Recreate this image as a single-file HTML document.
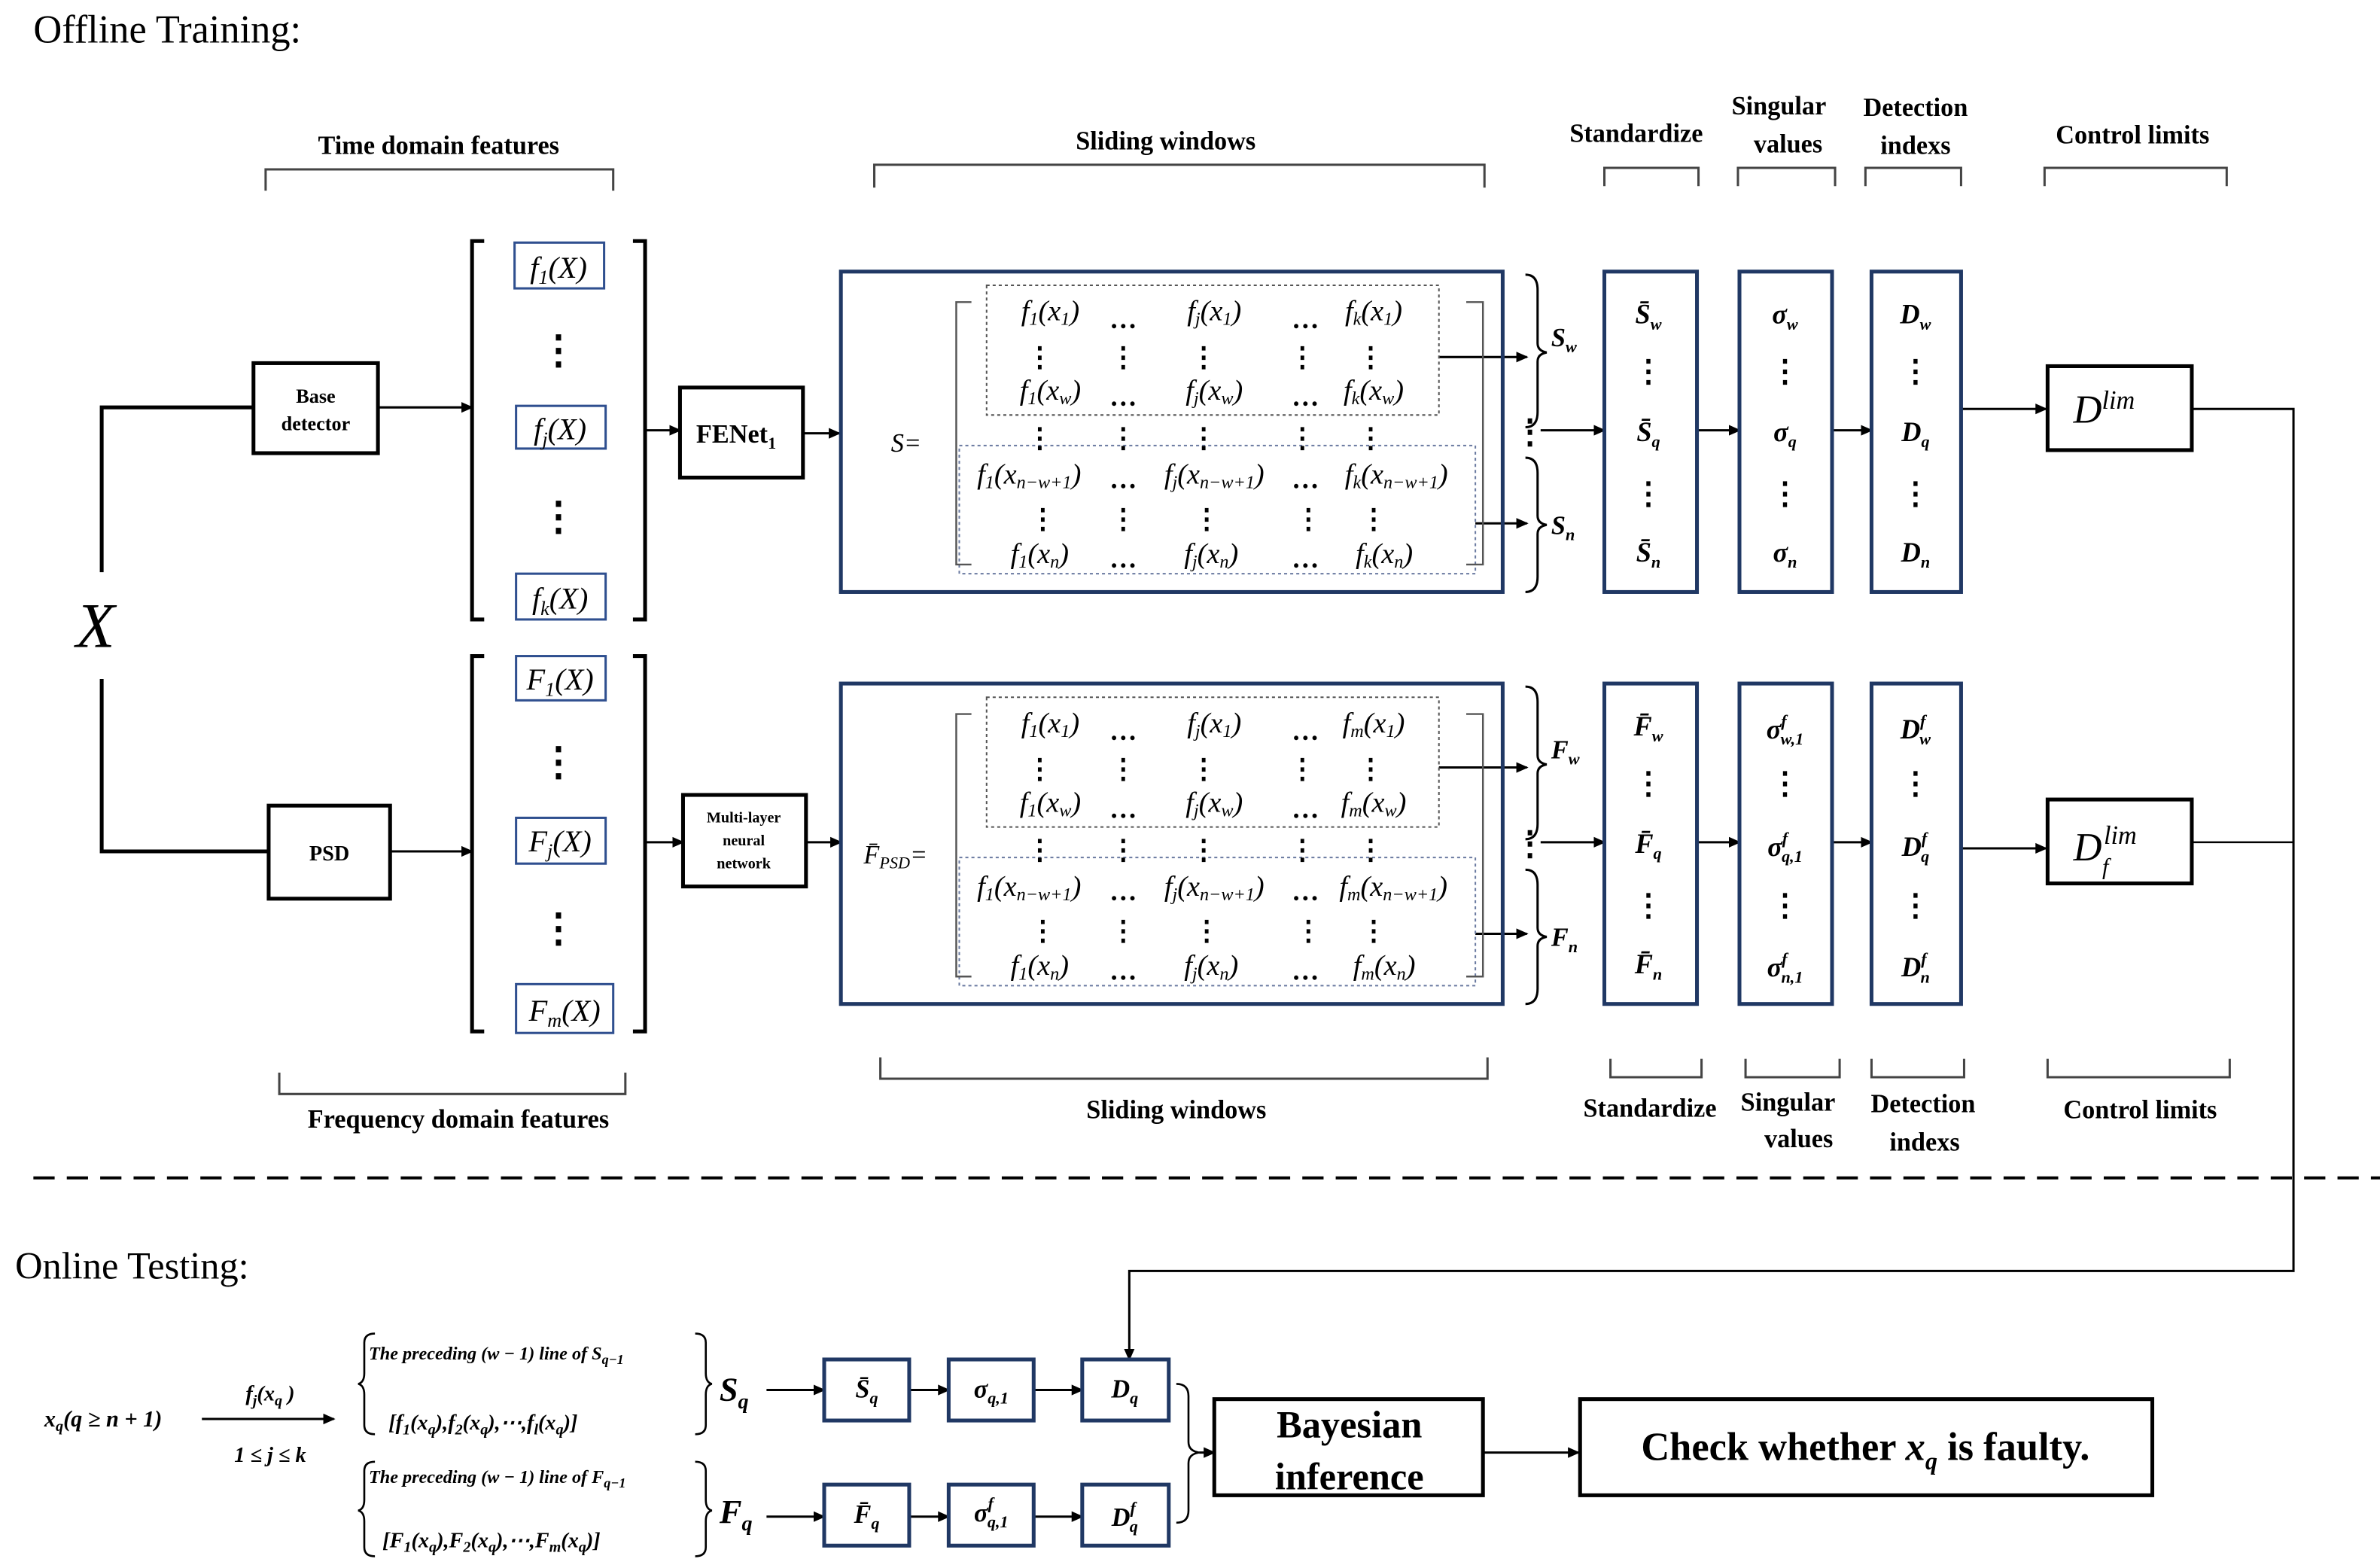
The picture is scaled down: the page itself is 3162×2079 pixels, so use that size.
<!DOCTYPE html>
<html><head><meta charset="utf-8"><style>
html,body{margin:0;padding:0;background:#fff;}
svg{display:block;}
.t{font-family:"Liberation Serif",serif;}
.b{font-weight:bold;}
.i{font-style:italic;}
</style></head><body>
<svg width="3162" height="2079" viewBox="0 0 1568 1025.7" preserveAspectRatio="none" xmlns="http://www.w3.org/2000/svg" class="t">
<defs><marker id="a" markerWidth="8" markerHeight="8" refX="7" refY="4" orient="auto" markerUnits="userSpaceOnUse"><path d="M0,0.5 L8,4 L0,7.5z" fill="#000"/></marker></defs>
<rect width="1568" height="1026" fill="#fff"/>
<text x="22" y="28" font-size="26">Offline Training:</text>
<g font-size="17" class="b" text-anchor="middle">
<text x="289" y="101">Time domain features</text>
<text x="768" y="98">Sliding windows</text>
<text x="1078" y="93">Standardize</text>
<text x="1172" y="75">Singular</text><text x="1178" y="100">values</text>
<text x="1262" y="76">Detection</text><text x="1262" y="101">indexs</text>
<text x="1405" y="94">Control limits</text>
<text x="302" y="739">Frequency domain features</text>
<text x="775" y="733">Sliding windows</text>
<text x="1087" y="732">Standardize</text>
<text x="1178" y="728">Singular</text><text x="1185" y="752">values</text>
<text x="1267" y="729">Detection</text><text x="1268" y="754">indexs</text>
<text x="1410" y="733">Control limits</text>
</g>
<g fill="none" stroke="#444" stroke-width="1.5">
<path d="M175,125V111H404V125"/><path d="M576,123V108H978V123"/><path d="M1057,122V110H1119V122"/>
<path d="M1145,122V110H1209V122"/><path d="M1229,122V110H1292V122"/><path d="M1347,122V110H1467V122"/>
<path d="M184,703V717H412V703"/><path d="M580,693V707H980V693"/><path d="M1061,694V706H1121V694"/>
<path d="M1150,694V706H1212V694"/><path d="M1233,694V706H1294V694"/><path d="M1349,694V706H1469V694"/>
</g>
<text x="50" y="424" font-size="42" class="i">X</text>
<g fill="none" stroke="#000" stroke-width="2.5">
<path d="M67,375V267H167"/><path d="M67,445V558H177"/>
<rect x="167" y="238" width="82" height="59"/><rect x="177" y="528" width="80" height="61"/>
<rect x="448" y="254" width="81" height="59"/><rect x="450" y="521" width="81" height="60"/>
<path d="M319,158H311V406H319M417,158H425V406H417"/><path d="M319,430H311V676H319M417,430H425V676H417"/>
<rect x="1349" y="240" width="95" height="55"/><rect x="1349" y="524" width="95" height="55"/>
<rect x="800" y="917" width="177" height="63"/><rect x="1041" y="917" width="377" height="63"/>
</g>
<g font-size="13" class="b" text-anchor="middle"><text x="208" y="264">Base</text><text x="208" y="282">detector</text>
<text x="217" y="564" font-size="14">PSD</text>
<text x="490" y="539" font-size="10">Multi-layer</text><text x="490" y="554" font-size="10">neural</text><text x="490" y="569" font-size="10">network</text>
<text x="485" y="290" font-size="17">FENet<tspan font-size="11" dy="4">1</tspan></text></g>
<g stroke="#000" stroke-width="1.5" fill="none" marker-end="url(#a)">
<path d="M249,267H311"/><path d="M257,558H311"/><path d="M425,282H448"/><path d="M529,284H553"/><path d="M425,552H450"/><path d="M531,552H554"/>
<path d="M1015,282H1057"/><path d="M1118,282H1146"/><path d="M1207,282H1233"/><path d="M1292,268H1348"/>
<path d="M1015,552H1057"/><path d="M1118,552H1146"/><path d="M1207,552H1233"/><path d="M1292,556H1348"/>
<path d="M948,234H1006"/><path d="M972,343H1006"/><path d="M948,503H1006"/><path d="M972,612H1006"/>
<path d="M1444,268H1511V833H744V891"/>
<path d="M133,930H220"/><path d="M505,911H543"/><path d="M599,911H625"/><path d="M681,911H713"/>
<path d="M505,994H543"/><path d="M599,994H625"/><path d="M681,994H713"/>
<path d="M790,952H800"/><path d="M977,952H1040"/>
</g>
<path d="M1444,552H1511" stroke="#000" stroke-width="1.2"/>
<g fill="none" stroke="#203864" stroke-width="2.5">
<rect x="554" y="178" width="436" height="210"/><rect x="554" y="448" width="436" height="210"/>
<rect x="1057" y="178" width="61" height="210"/><rect x="1146" y="178" width="61" height="210"/><rect x="1233" y="178" width="59" height="210"/>
<rect x="1057" y="448" width="61" height="210"/><rect x="1146" y="448" width="61" height="210"/><rect x="1233" y="448" width="59" height="210"/>
<rect x="543" y="891" width="56" height="40"/><rect x="625" y="891" width="56" height="40"/><rect x="713" y="891" width="57" height="40"/>
<rect x="543" y="973" width="56" height="40"/><rect x="625" y="973" width="56" height="40"/><rect x="713" y="973" width="57" height="40"/>
</g>
<g fill="none" stroke="#2f4f8f" stroke-width="1.5">
<rect x="339" y="159" width="59" height="30"/><rect x="340" y="266" width="59" height="28"/><rect x="340" y="376" width="59" height="30"/>
<rect x="340" y="430" width="59" height="29"/><rect x="340" y="536" width="59" height="30"/><rect x="340" y="645" width="64" height="32"/>
</g>
<g font-size="20" class="i" text-anchor="middle">
<text x="368" y="182">f<tspan font-size="13" dy="4">1</tspan><tspan dy="-4">(X)</tspan></text>
<text x="369" y="288">f<tspan font-size="13" dy="4">j</tspan><tspan dy="-4">(X)</tspan></text>
<text x="369" y="399">f<tspan font-size="13" dy="4">k</tspan><tspan dy="-4">(X)</tspan></text>
<text x="369" y="452">F<tspan font-size="13" dy="4">1</tspan><tspan dy="-4">(X)</tspan></text>
<text x="369" y="558">F<tspan font-size="13" dy="4">j</tspan><tspan dy="-4">(X)</tspan></text>
<text x="372" y="669">F<tspan font-size="13" dy="4">m</tspan><tspan dy="-4">(X)</tspan></text>
</g>
<g font-size="26" class="b" text-anchor="middle"><text x="368" y="238">⋮</text><text x="368" y="347">⋮</text><text x="368" y="508">⋮</text><text x="368" y="617">⋮</text></g>
<g id="m1">
<rect x="650" y="187" width="298" height="85" fill="none" stroke="#555" stroke-width="1" stroke-dasharray="2,2"/>
<rect x="632" y="292" width="340" height="84" fill="none" stroke="#6a7aa0" stroke-width="1" stroke-dasharray="2,2"/>
<path d="M640,198H630V370H640M966,198H977V370H966" fill="none" stroke="#555" stroke-width="1.2"/>
</g>
<use href="#m1" y="270"/>
<g font-size="19" class="i" text-anchor="middle">
<text x="597" y="296" font-size="17">S=</text>
<text x="692" y="210">f<tspan font-size="12" dy="3">1</tspan><tspan dy="-3">(x</tspan><tspan font-size="12" dy="3">1</tspan><tspan dy="-3">)</tspan></text>
<text x="800" y="210">f<tspan font-size="12" dy="3">j</tspan><tspan dy="-3">(x</tspan><tspan font-size="12" dy="3">1</tspan><tspan dy="-3">)</tspan></text>
<text x="905" y="210">f<tspan font-size="12" dy="3">k</tspan><tspan dy="-3">(x</tspan><tspan font-size="12" dy="3">1</tspan><tspan dy="-3">)</tspan></text>
<text x="692" y="262">f<tspan font-size="12" dy="3">1</tspan><tspan dy="-3">(x</tspan><tspan font-size="12" dy="3">w</tspan><tspan dy="-3">)</tspan></text>
<text x="800" y="262">f<tspan font-size="12" dy="3">j</tspan><tspan dy="-3">(x</tspan><tspan font-size="12" dy="3">w</tspan><tspan dy="-3">)</tspan></text>
<text x="905" y="262">f<tspan font-size="12" dy="3">k</tspan><tspan dy="-3">(x</tspan><tspan font-size="12" dy="3">w</tspan><tspan dy="-3">)</tspan></text>
<text x="678" y="317">f<tspan font-size="12" dy="3">1</tspan><tspan dy="-3">(x</tspan><tspan font-size="12" dy="3">n−w+1</tspan><tspan dy="-3">)</tspan></text>
<text x="800" y="317">f<tspan font-size="12" dy="3">j</tspan><tspan dy="-3">(x</tspan><tspan font-size="12" dy="3">n−w+1</tspan><tspan dy="-3">)</tspan></text>
<text x="920" y="317">f<tspan font-size="12" dy="3">k</tspan><tspan dy="-3">(x</tspan><tspan font-size="12" dy="3">n−w+1</tspan><tspan dy="-3">)</tspan></text>
<text x="685" y="369">f<tspan font-size="12" dy="3">1</tspan><tspan dy="-3">(x</tspan><tspan font-size="12" dy="3">n</tspan><tspan dy="-3">)</tspan></text>
<text x="798" y="369">f<tspan font-size="12" dy="3">j</tspan><tspan dy="-3">(x</tspan><tspan font-size="12" dy="3">n</tspan><tspan dy="-3">)</tspan></text>
<text x="912" y="369">f<tspan font-size="12" dy="3">k</tspan><tspan dy="-3">(x</tspan><tspan font-size="12" dy="3">n</tspan><tspan dy="-3">)</tspan></text>
<text x="590" y="566" font-size="17">F̄<tspan font-size="11" dy="3">PSD</tspan><tspan dy="-3">=</tspan></text>
<text x="692" y="480">f<tspan font-size="12" dy="3">1</tspan><tspan dy="-3">(x</tspan><tspan font-size="12" dy="3">1</tspan><tspan dy="-3">)</tspan></text>
<text x="800" y="480">f<tspan font-size="12" dy="3">j</tspan><tspan dy="-3">(x</tspan><tspan font-size="12" dy="3">1</tspan><tspan dy="-3">)</tspan></text>
<text x="905" y="480">f<tspan font-size="12" dy="3">m</tspan><tspan dy="-3">(x</tspan><tspan font-size="12" dy="3">1</tspan><tspan dy="-3">)</tspan></text>
<text x="692" y="532">f<tspan font-size="12" dy="3">1</tspan><tspan dy="-3">(x</tspan><tspan font-size="12" dy="3">w</tspan><tspan dy="-3">)</tspan></text>
<text x="800" y="532">f<tspan font-size="12" dy="3">j</tspan><tspan dy="-3">(x</tspan><tspan font-size="12" dy="3">w</tspan><tspan dy="-3">)</tspan></text>
<text x="905" y="532">f<tspan font-size="12" dy="3">m</tspan><tspan dy="-3">(x</tspan><tspan font-size="12" dy="3">w</tspan><tspan dy="-3">)</tspan></text>
<text x="678" y="587">f<tspan font-size="12" dy="3">1</tspan><tspan dy="-3">(x</tspan><tspan font-size="12" dy="3">n−w+1</tspan><tspan dy="-3">)</tspan></text>
<text x="800" y="587">f<tspan font-size="12" dy="3">j</tspan><tspan dy="-3">(x</tspan><tspan font-size="12" dy="3">n−w+1</tspan><tspan dy="-3">)</tspan></text>
<text x="918" y="587">f<tspan font-size="12" dy="3">m</tspan><tspan dy="-3">(x</tspan><tspan font-size="12" dy="3">n−w+1</tspan><tspan dy="-3">)</tspan></text>
<text x="685" y="639">f<tspan font-size="12" dy="3">1</tspan><tspan dy="-3">(x</tspan><tspan font-size="12" dy="3">n</tspan><tspan dy="-3">)</tspan></text>
<text x="798" y="639">f<tspan font-size="12" dy="3">j</tspan><tspan dy="-3">(x</tspan><tspan font-size="12" dy="3">n</tspan><tspan dy="-3">)</tspan></text>
<text x="912" y="639">f<tspan font-size="12" dy="3">m</tspan><tspan dy="-3">(x</tspan><tspan font-size="12" dy="3">n</tspan><tspan dy="-3">)</tspan></text>
</g>
<g font-size="18" class="b" text-anchor="middle" id="dots">
<text x="740" y="215">…</text><text x="860" y="215">…</text><text x="740" y="266">…</text><text x="860" y="266">…</text>
<text x="740" y="320">…</text><text x="860" y="320">…</text><text x="740" y="372">…</text><text x="860" y="372">…</text>
<text x="685" y="240">⋮</text><text x="740" y="240">⋮</text><text x="793" y="240">⋮</text><text x="858" y="240">⋮</text><text x="903" y="240">⋮</text>
<text x="685" y="293">⋮</text><text x="740" y="293">⋮</text><text x="793" y="293">⋮</text><text x="858" y="293">⋮</text><text x="903" y="293">⋮</text>
<text x="687" y="346">⋮</text><text x="740" y="346">⋮</text><text x="795" y="346">⋮</text><text x="862" y="346">⋮</text><text x="905" y="346">⋮</text>
</g>
<use href="#dots" y="270"/>
<g fill="none" stroke="#000" stroke-width="1.5">
<path d="M1005,180Q1013,180 1013,190V225Q1013,230 1019,231Q1013,232 1013,237V270Q1013,280 1005,280"/>
<path d="M1005,300Q1013,300 1013,310V338Q1013,343 1019,344Q1013,345 1013,350V378Q1013,388 1005,388"/>
<path d="M1005,450Q1013,450 1013,460V495Q1013,500 1019,501Q1013,502 1013,507V540Q1013,550 1005,550"/>
<path d="M1005,570Q1013,570 1013,580V608Q1013,613 1019,614Q1013,615 1013,620V648Q1013,658 1005,658"/>
</g>
<g font-size="22" class="b" text-anchor="middle"><text x="1008" y="290">⋮</text><text x="1008" y="560">⋮</text></g>
<g font-size="17" class="i b">
<text x="1022" y="227">S<tspan font-size="11" dy="4">w</tspan></text><text x="1022" y="350">S<tspan font-size="11" dy="4">n</tspan></text>
<text x="1022" y="497">F<tspan font-size="11" dy="4">w</tspan></text><text x="1022" y="620">F<tspan font-size="11" dy="4">n</tspan></text>
</g>
<g font-size="18" class="i b" text-anchor="middle">
<text x="1086" y="212">S̄<tspan font-size="11" dy="4">w</tspan></text><text x="1086" y="289">S̄<tspan font-size="11" dy="4">q</tspan></text><text x="1086" y="368">S̄<tspan font-size="11" dy="4">n</tspan></text>
<text x="1176" y="212">σ<tspan font-size="11" dy="4">w</tspan></text><text x="1176" y="289">σ<tspan font-size="11" dy="4">q</tspan></text><text x="1176" y="368">σ<tspan font-size="11" dy="4">n</tspan></text>
<text x="1262" y="212">D<tspan font-size="11" dy="4">w</tspan></text><text x="1262" y="289">D<tspan font-size="11" dy="4">q</tspan></text><text x="1262" y="368">D<tspan font-size="11" dy="4">n</tspan></text>
<text x="1086" y="482">F̄<tspan font-size="11" dy="4">w</tspan></text><text x="1086" y="559">F̄<tspan font-size="11" dy="4">q</tspan></text><text x="1086" y="638">F̄<tspan font-size="11" dy="4">n</tspan></text>
<text x="1176" y="484">σ<tspan font-size="11" dy="-8">f</tspan><tspan font-size="11" dy="12" dx="-4">w,1</tspan></text>
<text x="1176" y="561">σ<tspan font-size="11" dy="-8">f</tspan><tspan font-size="11" dy="12" dx="-4">q,1</tspan></text>
<text x="1176" y="640">σ<tspan font-size="11" dy="-8">f</tspan><tspan font-size="11" dy="12" dx="-4">n,1</tspan></text>
<text x="1262" y="484">D<tspan font-size="11" dy="-8">f</tspan><tspan font-size="11" dy="12" dx="-4">w</tspan></text>
<text x="1262" y="561">D<tspan font-size="11" dy="-8">f</tspan><tspan font-size="11" dy="12" dx="-4">q</tspan></text>
<text x="1262" y="640">D<tspan font-size="11" dy="-8">f</tspan><tspan font-size="11" dy="12" dx="-4">n</tspan></text>
</g>
<g font-size="20" class="b" text-anchor="middle">
<text x="1176" y="250">⋮</text><text x="1176" y="330">⋮</text><text x="1262" y="250">⋮</text><text x="1262" y="330">⋮</text><text x="1086" y="250">⋮</text><text x="1086" y="330">⋮</text>
<text x="1176" y="520">⋮</text><text x="1176" y="600">⋮</text><text x="1262" y="520">⋮</text><text x="1262" y="600">⋮</text><text x="1086" y="520">⋮</text><text x="1086" y="600">⋮</text>
</g>
<g font-size="26" class="i">
<text x="1366" y="277">D<tspan font-size="17" dy="-9">lim</tspan></text>
<text x="1366" y="564">D</text><text x="1386" y="553" font-size="17">lim</text><text x="1385" y="573" font-size="15">f</text>
</g>
<line x1="22" y1="772" x2="1568" y2="772" stroke="#000" stroke-width="2" stroke-dasharray="14,8"/>
<text x="10" y="838" font-size="25">Online Testing:</text>
<g class="i b">
<text x="68" y="935" font-size="15" text-anchor="middle">x<tspan font-size="10" dy="3">q</tspan><tspan dy="-3">(q ≥ n + 1)</tspan></text>
<text x="178" y="918" font-size="14" text-anchor="middle">f<tspan font-size="10" dy="3">j</tspan><tspan dy="-3">(x</tspan><tspan font-size="10" dy="3">q</tspan><tspan dy="-3"> )</tspan></text>
<text x="178" y="958" font-size="14" text-anchor="middle">1 ≤ j ≤ k</text>
<text x="243" y="891" font-size="12">The preceding (w − 1) line of S<tspan font-size="9" dy="3">q−1</tspan></text>
<text x="256" y="937" font-size="14">[f<tspan font-size="10" dy="3">1</tspan><tspan dy="-3">(x</tspan><tspan font-size="10" dy="3">q</tspan><tspan dy="-3">),f</tspan><tspan font-size="10" dy="3">2</tspan><tspan dy="-3">(x</tspan><tspan font-size="10" dy="3">q</tspan><tspan dy="-3">),⋯,f</tspan><tspan font-size="10" dy="3">l</tspan><tspan dy="-3">(x</tspan><tspan font-size="10" dy="3">q</tspan><tspan dy="-3">)]</tspan></text>
<text x="243" y="972" font-size="12">The preceding (w − 1) line of F<tspan font-size="9" dy="3">q−1</tspan></text>
<text x="252" y="1014" font-size="14">[F<tspan font-size="10" dy="3">1</tspan><tspan dy="-3">(x</tspan><tspan font-size="10" dy="3">q</tspan><tspan dy="-3">),F</tspan><tspan font-size="10" dy="3">2</tspan><tspan dy="-3">(x</tspan><tspan font-size="10" dy="3">q</tspan><tspan dy="-3">),⋯,F</tspan><tspan font-size="10" dy="3">m</tspan><tspan dy="-3">(x</tspan><tspan font-size="10" dy="3">q</tspan><tspan dy="-3">)]</tspan></text>
<text x="474" y="918" font-size="22">S<tspan font-size="14" dy="5">q</tspan></text>
<text x="474" y="998" font-size="22">F<tspan font-size="14" dy="5">q</tspan></text>
<g font-size="17" text-anchor="middle">
<text x="571" y="916">S̄<tspan font-size="11" dy="4">q</tspan></text>
<text x="653" y="916">σ<tspan font-size="11" dy="4">q,1</tspan></text>
<text x="741" y="916">D<tspan font-size="11" dy="4">q</tspan></text>
<text x="571" y="998">F̄<tspan font-size="11" dy="4">q</tspan></text>
<text x="653" y="997">σ<tspan font-size="11" dy="-8">f</tspan><tspan font-size="11" dy="12" dx="-4">q,1</tspan></text>
<text x="741" y="1000">D<tspan font-size="11" dy="-8">f</tspan><tspan font-size="11" dy="12" dx="-4">q</tspan></text>
</g>
</g>
<g fill="none" stroke="#000" stroke-width="1.3">
<path d="M247,874Q240,874 240,880V900Q240,906 236,907Q240,908 240,914V934Q240,940 247,940"/>
<path d="M247,958Q240,958 240,964V983Q240,989 236,990Q240,991 240,997V1014Q240,1020 247,1020"/>
<path d="M458,874Q465,874 465,880V900Q465,906 469,907Q465,908 465,914V934Q465,940 458,940"/>
<path d="M458,958Q465,958 465,964V983Q465,989 469,990Q465,991 465,997V1014Q465,1020 458,1020"/>
<path d="M775,907Q783,907 783,915V945Q783,951 790,952Q783,953 783,959V990Q783,998 775,998"/>
</g>
<text x="889" y="942" font-size="25" class="b" text-anchor="middle">Bayesian</text>
<text x="889" y="976" font-size="25" class="b" text-anchor="middle">inference</text>
<text x="1229" y="957" font-size="26" class="b" text-anchor="middle">Check whether <tspan class="i">x</tspan><tspan class="i" font-size="16" dy="6">q</tspan><tspan dy="-6"> is faulty.</tspan></text>
</svg>
</body></html>
